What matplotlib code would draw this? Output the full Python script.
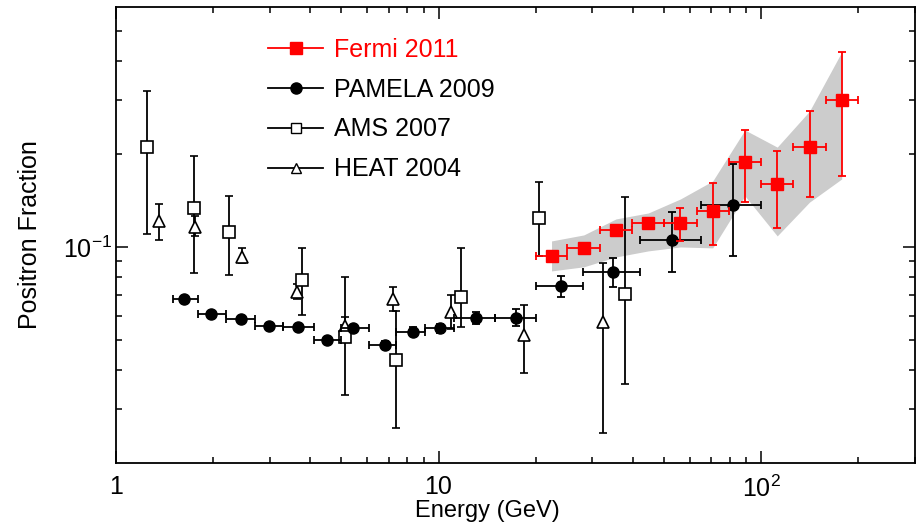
import matplotlib
matplotlib.use("Agg")
import matplotlib.pyplot as plt
from matplotlib.lines import Line2D
from matplotlib.ticker import FixedLocator, FixedFormatter, LogLocator, NullFormatter
import numpy as np

plt.rcParams['font.family'] = ['Liberation Sans', 'DejaVu Sans']
plt.rcParams['mathtext.fontset'] = 'custom'
plt.rcParams['mathtext.rm'] = 'Liberation Sans'
plt.rcParams['mathtext.it'] = 'Liberation Sans:italic'
plt.rcParams['mathtext.bf'] = 'Liberation Sans:bold'
plt.rcParams['mathtext.default'] = 'regular'

# ---------------- data ----------------
# Fermi 2011 (bins 20-200 GeV)
fermi_elo = [20.0, 25.1, 31.6, 39.8, 50.1, 63.1, 79.4, 100.0, 125.9, 158.5]
fermi_ehi = [25.1, 31.6, 39.8, 50.1, 63.1, 79.4, 100.0, 125.9, 158.5, 199.5]
fermi_e = [22.4, 28.2, 35.5, 44.7, 56.2, 70.8, 89.1, 112.2, 141.3, 177.8]
fermi_f = [0.0940, 0.0993, 0.1137, 0.1196, 0.1200, 0.1314, 0.1888, 0.1600, 0.2110, 0.3000]
fermi_lo = [0.0915, 0.0970, 0.1096, 0.1146, 0.1050, 0.1019, 0.1402, 0.1155, 0.1455, 0.1700]
fermi_hi = [0.0965, 0.1016, 0.1175, 0.1241, 0.1340, 0.1611, 0.2397, 0.2050, 0.2760, 0.4290]
band_lo = [0.0838, 0.0864, 0.0930, 0.0973, 0.1002, 0.0995, 0.1466, 0.1088, 0.1400, 0.1664]
band_hi = [0.1048, 0.1096, 0.1235, 0.1291, 0.1433, 0.1639, 0.2397, 0.2110, 0.2760, 0.4290]

# PAMELA 2009
pam_elo = [1.5, 1.8, 2.2, 2.7, 3.3, 4.1, 5.0, 6.1, 7.4, 9.1, 11.2, 15.0, 20.0, 28.0, 42.0, 65.0]
pam_ehi = [1.8, 2.2, 2.7, 3.3, 4.1, 5.0, 6.1, 7.4, 9.1, 11.2, 15.0, 20.0, 28.0, 42.0, 65.0, 100.0]
pam_e = [1.62, 1.97, 2.44, 2.98, 3.66, 4.50, 5.42, 6.80, 8.31, 10.1, 13.1, 17.4, 23.9, 34.8, 53.0, 81.9]
pam_f = [0.0680, 0.0608, 0.0586, 0.0556, 0.0552, 0.0501, 0.0548, 0.0483, 0.0532, 0.0548,
         0.0588, 0.0590, 0.0748, 0.0834, 0.1056, 0.1374]
pam_lo = [0.0668, 0.0597, 0.0575, 0.0545, 0.0541, 0.0490, 0.0535, 0.0470, 0.0516, 0.0528,
          0.0565, 0.0556, 0.0690, 0.0744, 0.0832, 0.0937]
pam_hi = [0.0692, 0.0619, 0.0597, 0.0567, 0.0563, 0.0512, 0.0561, 0.0496, 0.0553, 0.0565,
          0.0618, 0.0632, 0.0807, 0.0923, 0.1301, 0.1860]

# AMS 2007
ams_e = [1.25, 1.75, 2.24, 3.76, 5.12, 7.36, 11.76, 20.5, 37.9]
ams_f = [0.2107, 0.1337, 0.1123, 0.0784, 0.0513, 0.0432, 0.0692, 0.1241, 0.0706]
ams_lo = [0.1104, 0.0826, 0.0814, 0.0601, 0.0331, 0.0260, 0.0551, 0.0939, 0.0361]
ams_hi = [0.3213, 0.1979, 0.1462, 0.0993, 0.0800, 0.0622, 0.0993, 0.1623, 0.1451]

# HEAT 2004
heat_e = [1.36, 1.76, 2.46, 3.63, 5.12, 7.22, 10.95, 18.4, 32.3]
heat_f = [0.1219, 0.1160, 0.0928, 0.0715, 0.0556, 0.0680, 0.0619, 0.0520, 0.0572]
heat_lo = [0.1058, 0.1090, 0.0890, 0.0680, 0.0513, 0.0623, 0.0544, 0.0392, 0.0251]
heat_hi = [0.1381, 0.1266, 0.0993, 0.0760, 0.0595, 0.0742, 0.0702, 0.0651, 0.0890]

x_ticks = [1, 10, 100]
x_ticklabels = ['1', '10', r'$10^2$']
legend_labels = ['Fermi 2011', 'PAMELA 2009', 'AMS 2007', 'HEAT 2004']

RED = '#ff0000'

fig = plt.figure(figsize=(9.21, 5.25), dpi=100)
ax = fig.add_axes([116/921, 1-463/525, (915-116)/921, (463-7)/525])
ax.set_xscale('log')
ax.set_yscale('log')
ax.set_xlim(1, 300)
ax.set_ylim(0.02, 0.6)

def errs(v, lo, hi):
    v = np.array(v); return [v - np.array(lo), np.array(hi) - v]

# gray band
ax.fill_between(fermi_e, band_lo, band_hi, color='#cccccc', lw=0, zorder=1)

ekw = dict(elinewidth=1.3, capsize=3, capthick=1.3, linestyle='none')

# HEAT
ax.errorbar(heat_e, heat_f, yerr=errs(heat_f, heat_lo, heat_hi), marker='^', ms=8,
            mfc='white', mec='black', mew=1.2, color='black', zorder=3, **ekw)
# AMS
ax.errorbar(ams_e, ams_f, yerr=errs(ams_f, ams_lo, ams_hi), marker='s', ms=8.5,
            mfc='white', mec='black', mew=1.2, color='black', zorder=3, **ekw)
# PAMELA
ax.errorbar(pam_e, pam_f, xerr=errs(pam_e, pam_elo, pam_ehi), yerr=errs(pam_f, pam_lo, pam_hi),
            marker='o', ms=8, mfc='black', mec='black', color='black', zorder=4, **ekw)
# Fermi
ax.errorbar(fermi_e, fermi_f, xerr=errs(fermi_e, fermi_elo, fermi_ehi),
            yerr=errs(fermi_f, fermi_lo, fermi_hi), marker='s', ms=8, mfc=RED, mec=RED,
            color=RED, zorder=5, **ekw)

# ticks
ax.xaxis.set_major_locator(FixedLocator(x_ticks))
ax.xaxis.set_major_formatter(FixedFormatter(x_ticklabels))
ax.xaxis.set_minor_locator(LogLocator(base=10, subs=np.arange(2, 10)))
ax.xaxis.set_minor_formatter(NullFormatter())
ax.yaxis.set_major_locator(FixedLocator([0.1]))
ax.yaxis.set_major_formatter(FixedFormatter([r'$10^{-1}$']))
ax.yaxis.set_minor_locator(FixedLocator([0.03, 0.04, 0.05, 0.06, 0.07, 0.08, 0.09, 0.2, 0.3, 0.4, 0.5]))
ax.yaxis.set_minor_formatter(NullFormatter())
ax.tick_params(which='both', direction='in', top=True, right=True, labelsize=18, width=1.1)
ax.tick_params(which='major', length=8.5)
ax.tick_params(which='minor', length=4)
ax.tick_params(axis='x', which='major', pad=9)
ax.tick_params(axis='y', which='major', pad=3)
for s in ax.spines.values():
    s.set_linewidth(1.3)

ax.set_xlabel('Energy (GeV)', fontsize=17)
ax.xaxis.set_label_coords(0.465, -0.081)
ax.set_ylabel('Positron Fraction', fontsize=18)
ax.yaxis.set_label_coords(-0.093, 0.5)

handles = [
    Line2D([], [], color=RED, marker='s', ms=8, mfc=RED, mec=RED, lw=1.3),
    Line2D([], [], color='black', marker='o', ms=8, mfc='black', lw=1.3),
    Line2D([], [], color='black', marker='s', ms=7, mfc='white', mec='black', lw=1.3),
    Line2D([], [], color='black', marker='^', ms=7, mfc='white', mec='black', lw=1.3),
]
leg = fig.legend(handles, legend_labels, loc='upper left', bbox_to_anchor=(268/921, 1-38/525),
                 frameon=False, fontsize=18, handlelength=2.2, handletextpad=0.45,
                 labelspacing=0.63, borderpad=0, borderaxespad=0)
leg.get_texts()[0].set_color(RED)

fig.savefig('out.png', dpi=100)
